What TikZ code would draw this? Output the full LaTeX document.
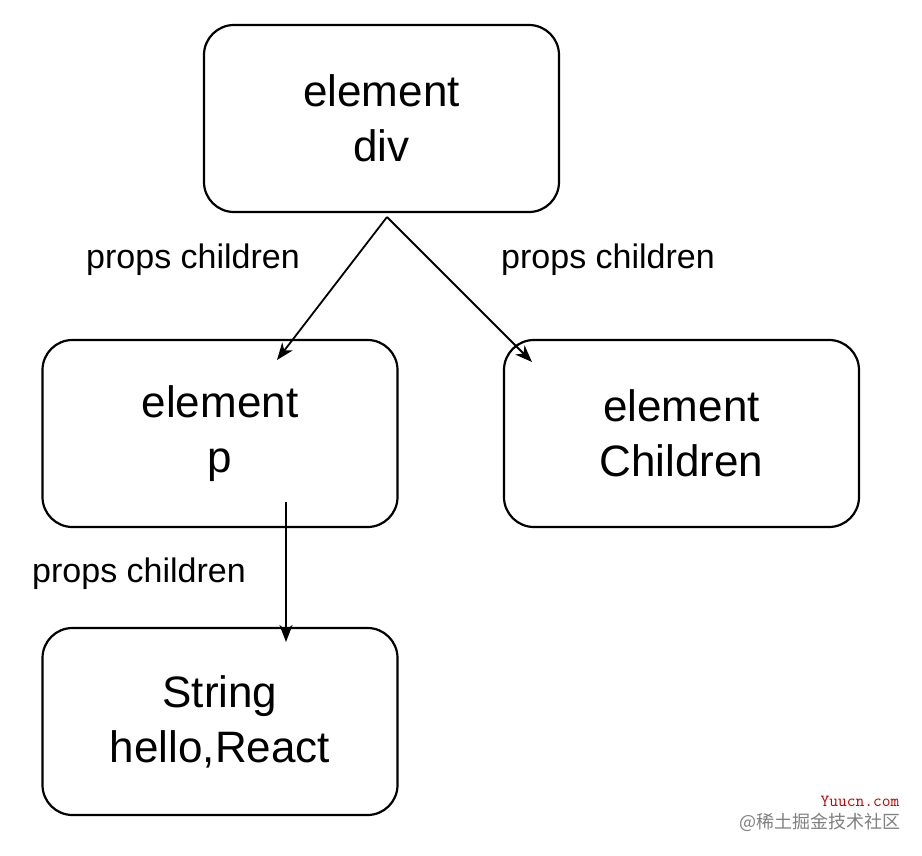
\documentclass[tikz,border=0pt]{standalone}
\usepackage{fontspec}
\setmainfont{Liberation Sans}
\newfontfamily\cjk{Noto Sans CJK SC}
\usetikzlibrary{arrows.meta}
\begin{document}
\begin{tikzpicture}[x=1pt,y=-1pt,
  box/.style={draw,line width=2.2pt,rounded corners=30pt,minimum width=355pt,minimum height=187pt,align=center,font=\fontsize{44}{55}\selectfont,inner sep=0pt},
  lbl/.style={font=\fontsize{34}{38}\selectfont},
  conn/.style={line width=1.8pt,-{Stealth[length=17pt,width=13pt,inset=5pt]}}]
\useasboundingbox[fill=white] (0,0) rectangle (922,856);
\node[box] (div) at (381.5,118.5) {element\\div};
\node[box] (p) at (220,433.5) {element\\p};
\node[box] (ch) at (681.5,433.5) {element\\Children};
\node[box] (str) at (220,721.5) {String\\hello,React};
\coordinate (s1) at (387,217);
\coordinate (s2) at (286,502);
\draw[conn] (s1) -- (277,360) coordinate (e1);
\draw[conn] (s1) -- (532,362) coordinate (e2);
\draw[conn] (s2) -- (286,642) coordinate (e3);
\node[lbl] (l1) at (193,260) {props children};
\node[lbl] (l2) at (608,260) {props children};
\node[lbl] (l3) at (139,574) {props children};
\node[font=\fontsize{17}{20}\ttfamily, text=red!75!black] (w1) at (860,801) {Yuucn.com};
\node[font=\cjk\fontsize{18}{20}\selectfont, text=gray] (w2) at (820,822) {@稀土掘金技术社区};
\end{tikzpicture}
\end{document}
